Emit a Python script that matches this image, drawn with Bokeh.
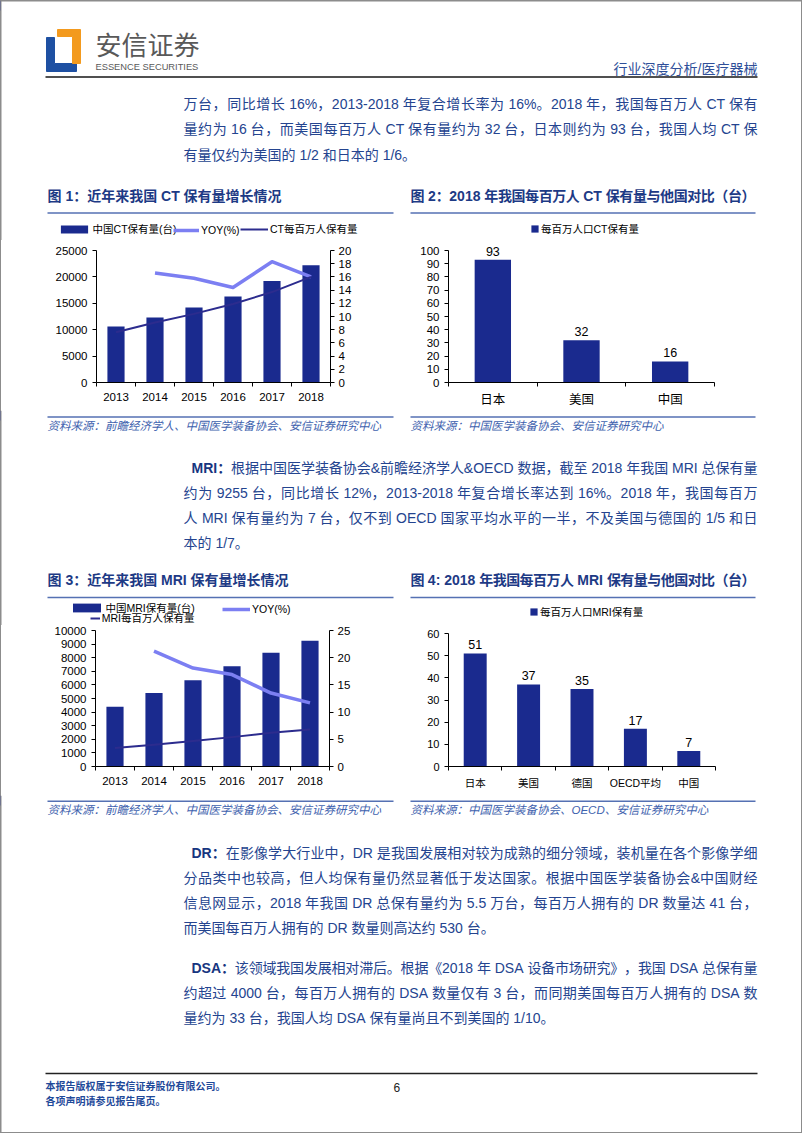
import math
from bokeh.plotting import figure
from bokeh.models import (Range1d, LinearAxis, FixedTicker, Legend, LegendItem,
                          ColumnDataSource, LabelSet)
from bokeh.layouts import column, row
from bokeh.embed import file_html
from bokeh.resources import INLINE
from bokeh.core.properties import value, field

# ---------------- data ----------------
years = ["2013", "2014", "2015", "2016", "2017", "2018"]
ct_units = [10600, 12300, 14200, 16300, 19200, 22200]
ct_yoy = [float("nan"), 16.6, 15.8, 14.4, 18.3, 16.0]
ct_per_million = [7.6, 9.1, 10.4, 11.9, 13.7, 16.0]
ct_left_ticks = [0, 5000, 10000, 15000, 20000, 25000]
ct_right_ticks = [0, 2, 4, 6, 8, 10, 12, 14, 16, 18, 20]
ct_series_names = ["中国CT保有量(台)", "YOY(%)", "CT每百万人保有量"]

ct_countries = ["日本", "美国", "中国"]
ct_country_values = [93, 32, 16]
ct_country_ticks = [0, 10, 20, 30, 40, 50, 60, 70, 80, 90, 100]
ct_country_name = "每百万人口CT保有量"

mri_units = [4400, 5400, 6350, 7380, 8360, 9255]
mri_yoy = [float("nan"), 21.2, 18.1, 16.9, 13.5, 11.7]
mri_per_million = [3.4, 4.0, 4.7, 5.4, 6.2, 6.8]
mri_left_ticks = [0, 1000, 2000, 3000, 4000, 5000, 6000, 7000, 8000, 9000, 10000]
mri_right_ticks = [0, 5, 10, 15, 20, 25]
mri_series_names = ["中国MRI保有量(台)", "YOY(%)", "MRI每百万人保有量"]

mri_countries = ["日本", "美国", "德国", "OECD平均", "中国"]
mri_country_values = [51, 37, 35, 17, 7]
mri_country_ticks = [0, 10, 20, 30, 40, 50, 60]
mri_country_name = "每百万人口MRI保有量"

# ---------------- styles ----------------
LAT = "Liberation Sans"
FONT = "Liberation Sans, Noto Sans CJK SC"
BAR = "#1A2A8E"
YOY = "#7C7FF2"
PM = "#2C2C8E"
BODY = "#24448F"
TITLE = "#1D3A85"
SRC = "#3E62AE"
LEAD = "#173580"
RULE = "#5571B3"
FOOT = "#1F4A9A"
EDGE = "#8c8c8c"

ARIAL = {" ": 278, "%": 889, "&": 667, "(": 333, ")": 333, ",": 278, "-": 333, ".": 278,
         "/": 278, ":": 278, "A": 667, "C": 722, "D": 722, "E": 667, "I": 278, "M": 833,
         "N": 722, "O": 778, "R": 722, "S": 667, "T": 611, "U": 722, "Y": 667}
for _d in "0123456789":
    ARIAL[_d] = 556
ARIAL_B = dict(ARIAL)
ARIAL_B.update({"A": 722, ":": 333, "&": 722})


def is_wide(ch):
    return ord(ch) >= 0x2E80


def cwidth(ch, size, bold):
    if is_wide(ch):
        return size
    tbl = ARIAL_B if bold else ARIAL
    return tbl.get(ch, 556) / 1000.0 * size


def clear_fills(p):
    p.background_fill_color = None
    p.border_fill_color = None
    p.outline_line_color = None


class Seg:
    def __init__(self, top, h):
        self.top = top
        self.h = h
        f = figure(width=802, height=h, x_range=Range1d(0, 802), y_range=Range1d(h, 0),
                   output_backend="svg", toolbar_location=None, min_border=0,
                   x_axis_location=None, y_axis_location=None)
        f.grid.visible = False
        clear_fills(f)
        self.f = f
        self.cols = {k: [] for k in ("x", "y", "t", "size", "style", "color")}
        # page edges
        f.segment(x0=[0.5, 801.5], y0=[0, 0], x1=[0.5, 801.5], y1=[h, h],
                  line_color=EDGE, line_width=1)
        # hidden sample glyphs for legends (kept outside the visible frame)
        self.s_bar = f.vbar(x=[-50], top=[10], width=1, fill_color=BAR, line_color=None)
        self.s_yoy = f.line(x=[-60, -50], y=[5, 5], line_color=YOY, line_width=3.5)
        self.s_pm = f.line(x=[-60, -50], y=[5, 5], line_color=PM, line_width=2)

    def rule(self, x0, x1, y, color, w):
        self.f.segment(x0=[x0], y0=[y - self.top], x1=[x1], y1=[y - self.top],
                       line_color=color, line_width=w)

    def legend(self, label, rend, x_left, bottom, gw, gh, size="10.5px"):
        vy = (self.top + self.h) - bottom
        self.f.add_layout(Legend(items=[LegendItem(label=label, renderers=[rend])],
                                 location=(x_left, vy), orientation="horizontal",
                                 glyph_width=gw, glyph_height=gh, label_standoff=2,
                                 spacing=0, padding=0, margin=0, border_line_color=None,
                                 background_fill_alpha=0, label_text_font=FONT,
                                 label_text_font_size=size, label_text_color="#000000",
                                 label_height=12))

    def text(self, x0, y, parts, size, x1=None, align="left"):
        chars = []
        for s, style, color in parts:
            bold = "bold" in style
            for ch in s:
                chars.append((ch, style, color, cwidth(ch, size, bold)))
        total = sum(c[3] for c in chars)
        if align == "right":
            x0 = x0 - total
        gaps = set(i for i in range(len(chars) - 1) if is_wide(chars[i][0]))
        extra = 0.0
        if x1 is not None and gaps:
            extra = (x1 - x0 - total) / len(gaps)
        x = x0
        runs = []
        brk = True
        for i, (ch, st, col, w) in enumerate(chars):
            if ch == " ":
                brk = True
            else:
                wide = is_wide(ch)
                if (not brk and runs and not wide and not runs[-1]["wide"]
                        and runs[-1]["st"] == st and runs[-1]["col"] == col):
                    runs[-1]["t"] += ch
                else:
                    runs.append(dict(x=x, t=ch, st=st, col=col, wide=wide))
                brk = wide
            x += w + (extra if i in gaps else 0.0)
        for r in runs:
            self.cols["x"].append(r["x"])
            self.cols["y"].append(y - self.top)
            self.cols["t"].append(r["t"])
            self.cols["size"].append("%.1fpx" % size)
            self.cols["style"].append(r["st"])
            self.cols["color"].append(r["col"])

    def para(self, x_first, x_left, x_right, ys, lines, size, lead=None):
        n = len(lines)
        for i, (yy, ln) in enumerate(zip(ys, lines)):
            parts = []
            if i == 0 and lead:
                parts.append((lead, "bold", LEAD))
            parts.append((ln, "normal", BODY))
            x0 = x_first if i == 0 else x_left
            self.text(x0, yy, parts, size, x1=(x_right if i < n - 1 else None))

    def finish(self):
        src = ColumnDataSource(self.cols)
        self.f.text(x="x", y="y", text="t", source=src, text_font=value(FONT),
                    text_font_size=field("size"), text_font_style=field("style"),
                    text_color=field("color"), text_align="left", text_baseline="middle")
        return self.f


# ---------------- charts ----------------
def axis_style(ax, size):
    ax.axis_line_color = "#000000"
    ax.major_tick_line_color = "#000000"
    ax.minor_tick_line_color = "#000000"
    ax.major_label_text_font = FONT
    ax.major_label_text_font_size = size
    ax.major_label_text_color = "#000000"


def view_end(tmax, geom):
    l, r, fig_top, fig_h, ftop, tmax_y, fbot = geom
    return tmax * (fbot - ftop) / (fbot - tmax_y)


def base_fig(n, ticks, geom):
    # geom: left, right, fig_top, fig_h, frame_top, y-pixel of top tick, frame_bottom (page px)
    l, r, fig_top, fig_h, ftop, tmax_y, fbot = geom
    p = figure(width=401, height=fig_h, x_range=Range1d(0, n),
               y_range=Range1d(ticks[0], view_end(ticks[-1], geom)),
               output_backend="svg", toolbar_location=None,
               min_border_left=l, min_border_right=r,
               min_border_top=ftop - fig_top, min_border_bottom=fig_top + fig_h - fbot,
               x_axis_location=None, y_axis_location=None)
    p.grid.visible = False
    clear_fills(p)
    return p


def cat_axis(p, labels, size, standoff):
    n = len(labels)
    xs = [i + 0.5 for i in range(n)]
    ax = LinearAxis(ticker=FixedTicker(ticks=xs, minor_ticks=list(range(n + 1))),
                    major_label_overrides={x: lab for x, lab in zip(xs, labels)},
                    major_tick_in=0, major_tick_out=0, minor_tick_in=0, minor_tick_out=4,
                    major_label_standoff=standoff)
    axis_style(ax, size)
    p.add_layout(ax, "below")


def val_axis(p, ticks, side, size, standoff, rname=None):
    kw = {}
    if rname:
        kw["y_range_name"] = rname
    ax = LinearAxis(ticker=FixedTicker(ticks=ticks), bounds=(ticks[0], ticks[-1]),
                    major_tick_in=0, major_tick_out=4, minor_tick_in=0, minor_tick_out=0,
                    major_label_standoff=standoff, **kw)
    axis_style(ax, size)
    p.add_layout(ax, side)


def combo(units, yoy, pm, lticks, rticks, geom):
    n = len(years)
    p = base_fig(n, lticks, geom)
    p.extra_y_ranges = {"r": Range1d(rticks[0], view_end(rticks[-1], geom))}
    xs = [i + 0.5 for i in range(n)]
    src = ColumnDataSource(dict(x=xs, units=units, yoy=yoy, pm=pm))
    p.vbar(x="x", top="units", width=0.44, source=src, fill_color=BAR, line_color=None)
    p.line(x="x", y="yoy", source=src, y_range_name="r", line_color=YOY,
           line_width=3.5, line_join="round")
    p.line(x="x", y="pm", source=src, y_range_name="r", line_color=PM,
           line_width=2, line_join="round")
    val_axis(p, lticks, "left", "11.5px", 5)
    val_axis(p, rticks, "right", "11.5px", 4, "r")
    cat_axis(p, years, "11.5px", 6)
    return p


def bars(cats, vals, ticks, geom, wfrac, cat_size, tick_size):
    n = len(cats)
    p = base_fig(n, ticks, geom)
    xs = [i + 0.5 for i in range(n)]
    src = ColumnDataSource(dict(x=xs, v=vals, lab=[str(v) for v in vals]))
    p.vbar(x="x", top="v", width=wfrac, source=src, fill_color=BAR, line_color=None)
    p.add_layout(LabelSet(x="x", y="v", text="lab", source=src, text_align="center",
                          text_baseline="bottom", y_offset=4, text_font=value(LAT),
                          text_font_size="12.5px", text_color="#000000"))
    val_axis(p, ticks, "left", tick_size, 5)
    cat_axis(p, cats, cat_size, 6)
    return p


# geometry: left, right, fig_top, fig_h, frame_top, y of top tick, frame_bottom
# (frames in one row share top and bottom)
c1 = combo(ct_units, ct_yoy, ct_per_million, ct_left_ticks, ct_right_ticks,
           (96, 71, 240, 170, 240, 250, 382))
c2 = bars(ct_countries, ct_country_values, ct_country_ticks,
          (47, 88, 240, 170, 240, 250, 382), 0.41, "12.5px", "11.5px")
c3 = combo(mri_units, mri_yoy, mri_per_million, mri_left_ticks, mri_right_ticks,
           (95, 72, 625, 170, 625, 630, 766))
c4 = bars(mri_countries, mri_country_values, mri_country_ticks,
          (47, 87, 625, 170, 625, 633, 766), 0.43, "10.5px", "11px")

# ---------------- page segments ----------------
A = Seg(0, 240)
A.rule(0, 802, 0.5, EDGE, 1)
A.f.patch(x=[46, 54, 54, 76, 76, 46], y=[37, 37, 63, 63, 71, 71], color="#1E50A2")
A.f.patch(x=[57, 80, 80, 72, 72, 57], y=[29, 29, 63, 63, 36, 36], color="#F39A1E")
A.text(95, 45, [("安信证券", "normal", "#595959")], 26)
A.text(95, 66, [("ESSENCE SECURITIES", "normal", "#595959")], 9.3)
A.text(757, 68, [("行业深度分析/医疗器械", "normal", "#2F4F99")], 14, align="right")
A.rule(45, 757, 76.5, "#505050", 2)
A.para(183, 183, 757, [103, 128.5, 154], [
    "万台，同比增长 16%，2013-2018 年复合增长率为 16%。2018 年，我国每百万人 CT 保有",
    "量约为 16 台，而美国每百万人 CT 保有量约为 32 台，日本则约为 93 台，我国人均 CT 保",
    "有量仅约为美国的 1/2 和日本的 1/6。"], 14)
A.text(47, 195, [("图 1：近年来我国 CT 保有量增长情况", "bold", TITLE)], 14)
A.text(410, 195, [("图 2：2018 年我国每百万人 CT 保有量与他国对比（台）", "bold", TITLE)], 14, x1=755)
A.rule(47, 393, 212.5, RULE, 1.5)
A.rule(410, 755, 212.5, RULE, 1.5)
A.legend(ct_series_names[0], A.s_bar, 56.6, 236, 34, 10)
A.legend(ct_series_names[1], A.s_yoy, 173, 236, 26, 10)
A.legend(ct_series_names[2], A.s_pm, 240, 236, 28, 10)
A.legend(ct_country_name, A.s_bar, 530, 235.5, 9, 9)

B = Seg(410, 215)
B.rule(47, 393, 416.5, RULE, 1.5)
B.rule(410, 755, 416.5, RULE, 1.5)
B.text(47, 425.5, [("资料来源：前瞻经济学人、中国医学装备协会、安信证券研究中心", "italic", SRC)], 11.5)
B.text(410, 425.5, [("资料来源：中国医学装备协会、安信证券研究中心", "italic", SRC)], 11.5)
B.para(191, 183, 757, [467, 492.5, 517.5, 542], [
    "根据中国医学装备协会&前瞻经济学人&OECD 数据，截至 2018 年我国 MRI 总保有量",
    "约为 9255 台，同比增长 12%，2013-2018 年复合增长率达到 16%。2018 年，我国每百万",
    "人 MRI 保有量约为 7 台，仅不到 OECD 国家平均水平的一半，不及美国与德国的 1/5 和日",
    "本的 1/7。"], 14, lead="MRI：")
B.text(47, 579, [("图 3：近年来我国 MRI 保有量增长情况", "bold", TITLE)], 14)
B.text(410, 579, [("图 4: 2018 年我国每百万人 MRI 保有量与他国对比（台）", "bold", TITLE)], 14, x1=755)
B.rule(47, 393, 597, RULE, 1.5)
B.rule(410, 755, 597, RULE, 1.5)
B.legend(mri_series_names[0], B.s_bar, 68.5, 615, 35, 11)
B.legend(mri_series_names[1], B.s_yoy, 222, 615, 28, 10)
B.legend(mri_series_names[2], B.s_pm, 89.7, 625, 10, 10)
B.legend(mri_country_name, B.s_bar, 529, 619, 9, 9)

C = Seg(795, 338)
C.rule(47, 393, 800.7, RULE, 1.5)
C.rule(410, 755, 800.7, RULE, 1.5)
C.text(47, 809.5, [("资料来源：前瞻经济学人、中国医学装备协会、安信证券研究中心", "italic", SRC)], 11.5)
C.text(410, 809.5, [("资料来源：中国医学装备协会、OECD、安信证券研究中心", "italic", SRC)], 11.5)
C.para(191, 183, 757, [852, 877, 902, 927], [
    "在影像学大行业中，DR 是我国发展相对较为成熟的细分领域，装机量在各个影像学细",
    "分品类中也较高，但人均保有量仍然显著低于发达国家。根据中国医学装备协会&中国财经",
    "信息网显示，2018 年我国 DR 总保有量约为 5.5 万台，每百万人拥有的 DR 数量达 41 台，",
    "而美国每百万人拥有的 DR 数量则高达约 530 台。"], 14, lead="DR：")
C.para(191, 183, 757, [967, 992.5, 1017.5], [
    "该领域我国发展相对滞后。根据《2018 年 DSA 设备市场研究》，我国 DSA 总保有量",
    "约超过 4000 台，每百万人拥有的 DSA 数量仅有 3 台，而同期美国每百万人拥有的 DSA 数",
    "量约为 33 台，我国人均 DSA 保有量尚且不到美国的 1/10。"], 14, lead="DSA：")
C.rule(45, 757, 1073, "#222222", 1.5)
C.text(45, 1086, [("本报告版权属于安信证券股份有限公司。", "bold", FOOT)], 10)
C.text(45, 1101, [("各项声明请参见报告尾页。", "bold", FOOT)], 10)
C.text(393, 1087, [("6", "normal", "#222222")], 12)
C.rule(0, 802, 1132.5, EDGE, 1)

page = column(A.finish(), row(c1, c2), B.finish(), row(c3, c4), C.finish(),
              styles={"box-shadow": "inset 0 0 0 1px #8c8c8c", "background-color": "#ffffff"})

open("out.html", "w").write(file_html(page, INLINE))
